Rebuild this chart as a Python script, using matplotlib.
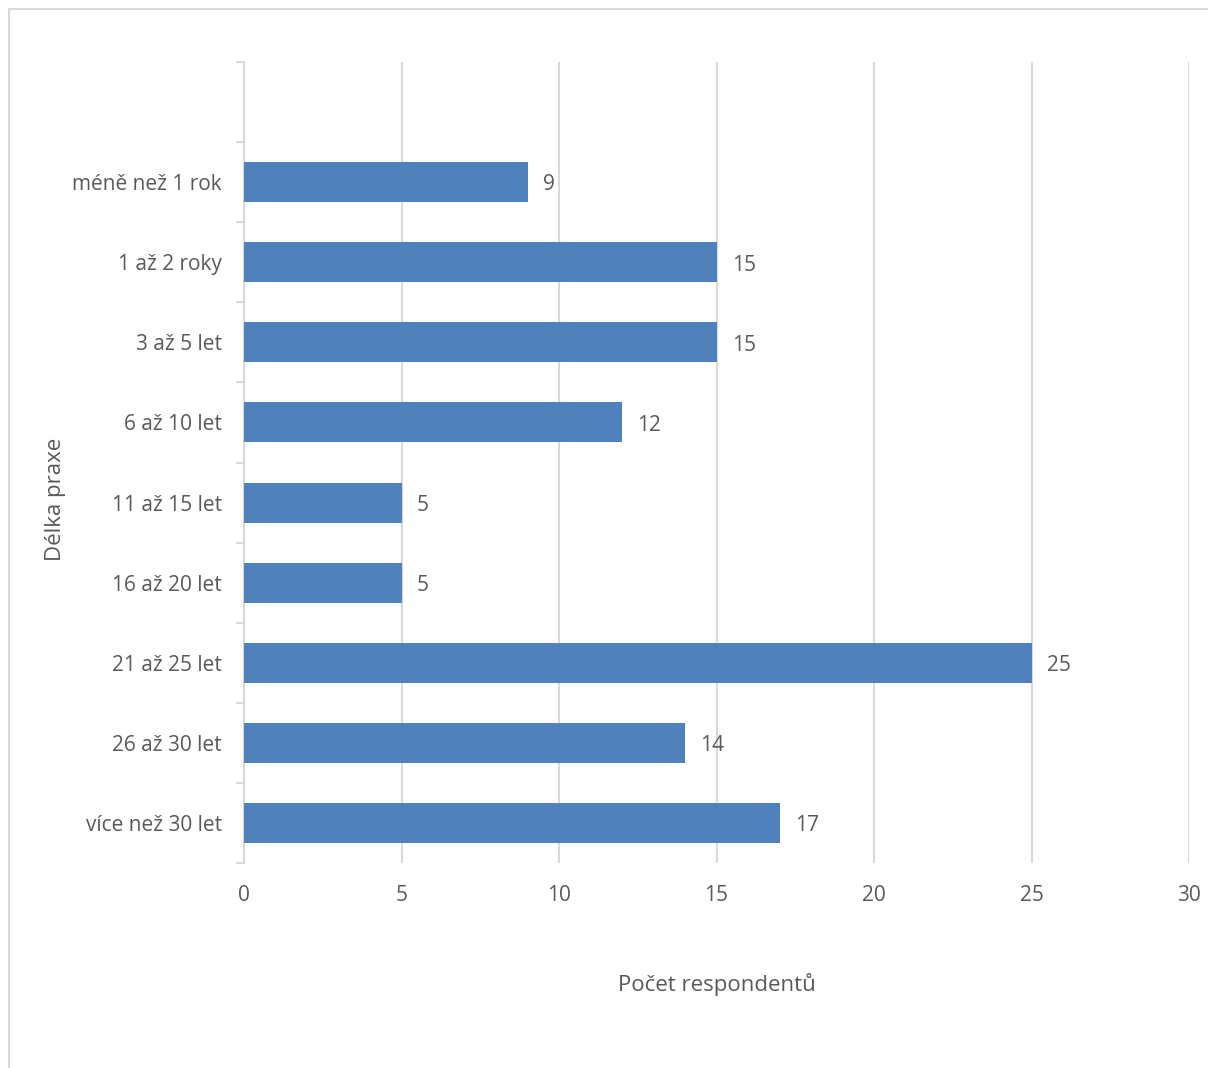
import matplotlib.pyplot as plt
from matplotlib.patches import Rectangle
import numpy as np

categories = ["méně než 1 rok", "1 až 2 roky", "3 až 5 let", "6 až 10 let",
              "11 až 15 let", "16 až 20 let", "21 až 25 let", "26 až 30 let",
              "více než 30 let"]
counts = [9, 15, 15, 12, 5, 5, 25, 14, 17]
x_ticks = [0, 5, 10, 15, 20, 25, 30]

bar_color = "#4F81BD"
grid_color = "#D9D9D9"
text_color = "#595959"

plt.rcParams['font.family'] = ['Open Sans', 'DejaVu Sans']

W, H = 1208, 1068
fig = plt.figure(figsize=(W / 100, H / 100), dpi=100)
ax = fig.add_axes([244 / W, 1 - 863 / H, (1189 - 244) / W, (863 - 62) / H])

# outer chart border (cut off at right and bottom)
fig.patches.append(Rectangle((9 / W, -0.05), 1.2, 1 - 9 / H + 0.05, transform=fig.transFigure,
                             fill=False, edgecolor=grid_color, linewidth=1.5))

# bottom category at 0, one empty slot at the top
ypos = np.arange(len(categories))[::-1]
ax.barh(ypos, counts, height=0.5, color=bar_color, zorder=3)

for y, v in zip(ypos, counts):
    ax.annotate(str(v), (v, y), xytext=(11, -2), textcoords="offset points",
                va="center", ha="left", fontsize=15, color=text_color)

ax.set_xlim(0, 30)
ax.set_ylim(-0.5, len(categories) + 0.5)

ax.set_xticks(x_ticks)
ax.set_xticklabels([str(t) for t in x_ticks])
ax.tick_params(axis="x", length=0, pad=16, labelsize=15, labelcolor=text_color)
for t in x_ticks[1:]:
    ax.axvline(t, color=grid_color, linewidth=1.5, zorder=1)

ax.set_yticks(np.arange(-0.5, len(categories) + 1, 1.0))
ax.set_yticklabels([])
ax.set_yticks(ypos, minor=True)
ax.set_yticklabels(categories, minor=True)
ax.tick_params(axis="y", which="major", length=6, width=1.5, color=grid_color, direction="out")
ax.tick_params(axis="y", which="minor", length=0, pad=16, labelsize=15, labelcolor=text_color)

for s in ["top", "right", "bottom"]:
    ax.spines[s].set_visible(False)
ax.spines["left"].set_color(grid_color)
ax.spines["left"].set_linewidth(1.5)

ax.set_xlabel("Počet respondentů", fontsize=16, color=text_color)
ax.set_ylabel("Délka praxe", fontsize=16, color=text_color)
ax.xaxis.set_label_coords(0.5, -(984 - 863) / (863 - 62))
ax.yaxis.set_label_coords(-(244 - 55) / (1189 - 244), 0.5 - (500 - 463) / (863 - 62))
ax.xaxis.label.set_va("center")
ax.yaxis.label.set_va("center")

fig.savefig("out.png", dpi=100)
